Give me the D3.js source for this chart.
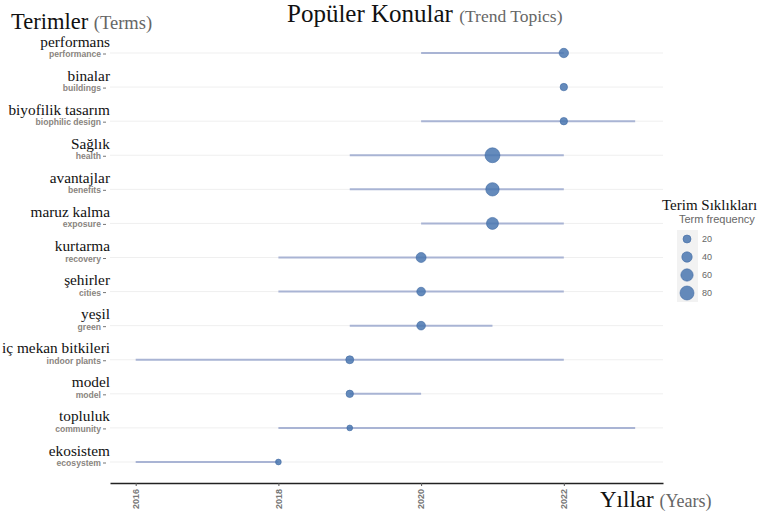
<!DOCTYPE html>
<html>
<head>
    <meta charset="utf-8">
    <title>Trend Topics</title>
    <script src="https://d3js.org/d3.v7.min.js"></script>
    <style>
        body { margin: 0; background: #fff; }
    </style>
</head>
<body>
    <script>
        // terms, top to bottom
        const termsTr = ["performans", "binalar", "biyofilik tasarım", "Sağlık", "avantajlar", "maruz kalma",
            "kurtarma", "şehirler", "yeşil", "iç mekan bitkileri", "model", "topluluk", "ekosistem"];
        const termsEn = ["performance", "buildings", "biophilic design", "health", "benefits", "exposure",
            "recovery", "cities", "green", "indoor plants", "model", "community", "ecosystem"];
        // year range (q1, median, q3) and frequency per term
        const yearStart = [2020, 2022, 2020, 2019, 2019, 2020, 2018, 2018, 2019, 2016, 2019, 2018, 2016];
        const yearMedian = [2022, 2022, 2022, 2021, 2021, 2021, 2020, 2020, 2020, 2019, 2019, 2019, 2018];
        const yearEnd = [2022, 2022, 2023, 2022, 2022, 2022, 2022, 2022, 2021, 2022, 2020, 2023, 2018];
        const freq = [31, 16, 16, 92, 72, 56, 36, 25, 25, 20, 16, 6, 6];
        const xTicks = [2016, 2018, 2020, 2022];
        const legendFreq = [20, 40, 60, 80];

        const width = 764;
        const height = 516;

        const data = termsEn.map((d, i) => ({
            en: d,
            tr: termsTr[i],
            start: yearStart[i],
            median: yearMedian[i],
            end: yearEnd[i],
            freq: freq[i]
        }));

        const svg = d3.select("body")
            .append("svg")
            .attr("width", width)
            .attr("height", height);

        const xScale = d3.scaleLinear()
            .domain([2015.64, 2023.39])
            .range([110, 663]);

        const yScale = d3.scalePoint()
            .domain(termsEn)
            .range([53, 462]);

        const rScale = d3.scaleRadial()
            .domain([20, 80])
            .range([4, 7]);

        const blue = "#4a77b0";

        // grid lines
        svg.selectAll(".grid")
            .data(termsEn)
            .enter()
            .append("line")
            .attr("x1", 110)
            .attr("x2", 663)
            .attr("y1", (d) => yScale(d))
            .attr("y2", (d) => yScale(d))
            .attr("stroke", "#efefef")
            .attr("stroke-width", 1);

        // year ranges
        svg.selectAll(".range")
            .data(data)
            .enter()
            .append("line")
            .attr("x1", (d) => xScale(d.start))
            .attr("x2", (d) => xScale(d.end))
            .attr("y1", (d) => yScale(d.en))
            .attr("y2", (d) => yScale(d.en))
            .attr("stroke", "#a9b4d4")
            .attr("stroke-width", 2);

        // median points
        svg.selectAll(".dot")
            .data(data)
            .enter()
            .append("circle")
            .attr("cx", (d) => xScale(d.median))
            .attr("cy", (d) => yScale(d.en))
            .attr("r", (d) => rScale(d.freq))
            .attr("fill", blue)
            .attr("fill-opacity", 0.85)
            .attr("stroke", "#3f6aa3")
            .attr("stroke-width", 0.6);

        // y labels: Turkish term above, English term below
        const yLab = svg.selectAll(".ylab")
            .data(data)
            .enter()
            .append("g")
            .attr("transform", (d) => `translate(0, ${yScale(d.en)})`);

        yLab.append("text")
            .attr("x", 110)
            .attr("y", -6.5)
            .attr("text-anchor", "end")
            .attr("font-family", "Liberation Serif, Times New Roman, serif")
            .attr("font-size", 15.3)
            .attr("fill", "#111")
            .text((d) => d.tr);

        yLab.append("text")
            .attr("x", 101)
            .attr("y", 4)
            .attr("text-anchor", "end")
            .attr("font-family", "Liberation Sans, Arial, sans-serif")
            .attr("font-weight", "bold")
            .attr("font-size", 8.6)
            .attr("fill", "#8a8580")
            .text((d) => d.en);

        yLab.append("line")
            .attr("x1", 103)
            .attr("x2", 106)
            .attr("y1", 1)
            .attr("y2", 1)
            .attr("stroke", "#777")
            .attr("stroke-width", 1);

        // x axis
        const xAxis = svg.append("g")
            .attr("transform", "translate(0,483)")
            .call(d3.axisBottom(xScale)
                .tickValues(xTicks)
                .tickFormat(d3.format("d"))
                .tickSize(3)
                .tickSizeOuter(0));

        xAxis.select(".domain")
            .attr("stroke", "#222")
            .attr("stroke-width", 1.5);

        xAxis.selectAll(".tick line")
            .attr("stroke", "#555");

        xAxis.selectAll(".tick text")
            .attr("font-family", "Liberation Sans, Arial, sans-serif")
            .attr("font-weight", "bold")
            .attr("font-size", 9)
            .attr("fill", "#777")
            .attr("text-anchor", "end")
            .attr("transform", "rotate(-90)")
            .attr("x", -6)
            .attr("y", 0)
            .attr("dy", "0.32em");

        // titles
        const title = svg.append("text")
            .attr("x", 287)
            .attr("y", 22)
            .attr("font-family", "Liberation Serif, Times New Roman, serif");
        title.append("tspan")
            .attr("font-size", 25)
            .attr("fill", "#111")
            .text("Popüler Konular ");
        title.append("tspan")
            .attr("font-size", 17.5)
            .attr("fill", "#666")
            .text("(Trend Topics)");

        const yTitle = svg.append("text")
            .attr("x", 11)
            .attr("y", 29)
            .attr("font-family", "Liberation Serif, Times New Roman, serif");
        yTitle.append("tspan")
            .attr("font-size", 22.5)
            .attr("fill", "#111")
            .text("Terimler ");
        yTitle.append("tspan")
            .attr("font-size", 18.5)
            .attr("fill", "#666")
            .text("(Terms)");

        const xTitle = svg.append("text")
            .attr("x", 600)
            .attr("y", 507)
            .attr("font-family", "Liberation Serif, Times New Roman, serif");
        xTitle.append("tspan")
            .attr("font-size", 23)
            .attr("fill", "#111")
            .text("Yıllar ");
        xTitle.append("tspan")
            .attr("font-size", 18)
            .attr("fill", "#666")
            .text("(Years)");

        // size legend
        svg.append("text")
            .attr("x", 662)
            .attr("y", 210)
            .attr("font-family", "Liberation Serif, Times New Roman, serif")
            .attr("font-size", 15)
            .attr("fill", "#111")
            .text("Terim Sıklıkları");

        svg.append("text")
            .attr("x", 679)
            .attr("y", 223)
            .attr("font-family", "Liberation Sans, Arial, sans-serif")
            .attr("font-size", 11)
            .attr("fill", "#666")
            .text("Term frequency");

        const legY = d3.scalePoint()
            .domain(legendFreq)
            .range([239, 293]);

        svg.append("rect")
            .attr("x", 677)
            .attr("y", 230)
            .attr("width", 21)
            .attr("height", 72)
            .attr("fill", "#f2f2f2");

        const legend = svg.selectAll(".legend")
            .data(legendFreq)
            .enter()
            .append("g")
            .attr("transform", (d) => `translate(687, ${legY(d)})`);

        legend.append("circle")
            .attr("r", (d) => rScale(d))
            .attr("fill", blue)
            .attr("fill-opacity", 0.85)
            .attr("stroke", "#3f6aa3")
            .attr("stroke-width", 0.6);

        legend.append("text")
            .attr("x", 15)
            .attr("dy", "0.35em")
            .attr("font-family", "Liberation Sans, Arial, sans-serif")
            .attr("font-size", 9)
            .attr("fill", "#666")
            .text((d) => d);
    </script>
</body>
</html>
